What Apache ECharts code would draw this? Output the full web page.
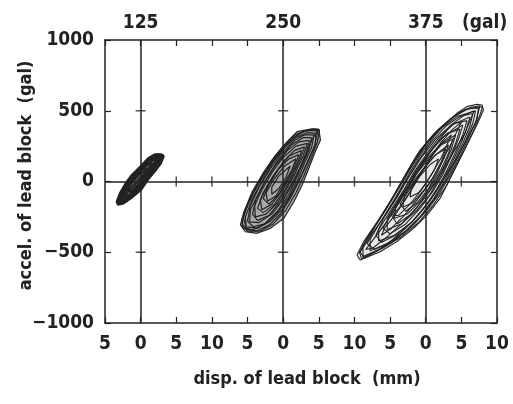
<!DOCTYPE html>
<html>
<head>
<meta charset="utf-8">
<script src="https://cdn.jsdelivr.net/npm/echarts@6/dist/echarts.min.js"></script>
<style>
html,body{margin:0;padding:0;background:#fff;}
#chart{width:513px;height:404px;}
</style>
</head>
<body>
<div id="chart"></div>
<script>
// ---- data (displacement mm, acceleration gal), local to each panel ----
const panelLabels = ['125', '250', '375'];
const panelCenters = [0, 20, 40];          // displacement origin of each panel on the shared axis
const zeroLineTicksX = [5, 10, 15, 25, 30, 35, 45];
const zeroLineTicksY = [-500, 500];

const loops125 = [
  [[3.3,180],[2.9,194],[2.0,194],[1.0,164],[-0.1,105],[-1.3,46],[-2.15,-13],[-2.95,-83],[-3.4,-143],[-3.2,-166],[-2.5,-159],[-1.3,-119],[0.1,-60],[1.0,10],[2.0,69],[2.9,129],[3.3,180]],
  [[2.8,170],[1.8,180],[0.6,130],[-0.6,70],[-1.8,0],[-2.7,-80],[-3.0,-140],[-2.2,-145],[-1.0,-95],[0.2,-30],[1.2,40],[2.2,110],[2.8,170]],
  [[2.4,150],[1.4,160],[0.2,100],[-1.0,30],[-2.2,-50],[-2.8,-120],[-2.0,-125],[-0.6,-60],[0.6,0],[1.6,70],[2.4,150]],
  [[1.8,120],[0.8,125],[-0.4,60],[-1.6,-10],[-2.4,-90],[-1.6,-100],[-0.4,-40],[0.8,30],[1.8,120]],
  [[1.2,90],[0.2,85],[-1.0,20],[-2.0,-60],[-1.2,-65],[0.0,-5],[1.2,90]],
  [[2.6,175],[1.2,150],[-0.2,80],[-1.5,10],[-2.5,-70],[-3.2,-150],[-2.6,-150],[-1.6,-100],[-0.3,-40],[0.8,20],[2.0,100],[2.6,175]],
  [[3.0,185],[2.2,170],[1.0,120],[-0.4,50],[-1.9,-30],[-2.9,-110],[-3.3,-155],[-2.8,-135],[-1.8,-70],[-0.6,-10],[0.6,60],[1.8,120],[3.0,185]],
  [[3.0,175],[2.4,185],[1.4,170],[0.2,110],[-1.0,45],[-2.0,-20],[-2.8,-90],[-3.3,-150],[-2.9,-160],[-2.0,-130],[-0.8,-70],[0.4,-5],[1.4,60],[2.4,130],[3.0,175]],
  [[2.2,160],[1.0,150],[-0.2,90],[-1.4,20],[-2.4,-60],[-3.0,-130],[-2.4,-140],[-1.2,-85],[0.0,-20],[1.0,50],[1.8,110],[2.2,160]],
  [[1.5,130],[0.4,110],[-0.8,45],[-1.9,-25],[-2.6,-100],[-1.8,-115],[-0.6,-50],[0.6,20],[1.5,130]],
  [[0.8,80],[-0.2,50],[-1.3,-10],[-1.9,-70],[-1.0,-70],[0.0,-10],[0.8,80]],
  [[3.2,188],[2.4,192],[1.3,170],[0.0,100],[-1.2,35],[-2.3,-40],[-3.1,-120],[-3.0,-160],[-2.2,-150],[-1.0,-100],[0.3,-40],[1.3,30],[2.4,100],[3.2,188]]
];

const loops250 = [
  [[5.0,371],[5.23,293],[4.5,211],[3.6,93],[2.66,-25],[1.5,-143],[0.1,-260],[-1.8,-331],[-3.65,-366],[-5.3,-355],[-6.0,-307],[-5.5,-213],[-4.35,-72],[-2.7,69],[-1.05,187],[0.56,281],[1.96,352],[3.86,371],[5.0,371]],
  [[4.6,340],[4.5,260],[3.6,160],[2.6,50],[1.4,-70],[0.0,-190],[-1.8,-280],[-3.6,-330],[-5.2,-320],[-5.3,-250],[-4.4,-130],[-3.0,0],[-1.5,130],[0.2,240],[1.8,310],[3.4,345],[4.6,340]],
  [[4.0,310],[3.6,220],[2.6,110],[1.4,-10],[0.0,-130],[-1.6,-230],[-3.4,-290],[-4.7,-285],[-4.6,-200],[-3.4,-80],[-2.0,50],[-0.4,170],[1.2,260],[2.8,310],[4.0,310]],
  [[3.4,270],[2.8,180],[1.8,70],[0.6,-40],[-0.8,-150],[-2.4,-230],[-3.9,-250],[-4.0,-170],[-3.0,-60],[-1.6,60],[0.0,170],[1.8,250],[3.4,270]],
  [[2.6,220],[2.0,130],[1.0,30],[-0.2,-70],[-1.6,-160],[-3.0,-200],[-3.2,-130],[-2.2,-30],[-0.8,80],[0.8,180],[2.6,220]],
  [[1.8,160],[1.2,80],[0.2,-10],[-1.0,-100],[-2.2,-140],[-2.4,-80],[-1.4,10],[0.2,110],[1.8,160]],
  [[4.8,360],[4.0,290],[3.0,170],[2.0,40],[0.8,-90],[-0.8,-210],[-2.6,-300],[-4.4,-345],[-5.6,-330],[-5.8,-270],[-4.9,-150],[-3.4,-10],[-1.8,120],[-0.2,220],[1.4,310],[3.2,360],[4.8,360]],
  [[1.0,110],[0.4,30],[-0.6,-50],[-1.6,-90],[-1.6,-40],[-0.6,40],[1.0,110]],
  [[5.1,365],[4.8,280],[3.9,160],[2.9,40],[1.8,-80],[0.4,-200],[-1.4,-300],[-3.2,-350],[-5.0,-350],[-5.8,-300],[-5.2,-190],[-3.9,-50],[-2.2,90],[-0.6,200],[1.0,290],[2.6,350],[4.2,372],[5.1,365]],
  [[4.3,330],[4.0,240],[3.0,130],[2.0,10],[0.8,-110],[-0.8,-220],[-2.6,-300],[-4.2,-320],[-5.0,-280],[-4.6,-170],[-3.4,-40],[-1.8,90],[-0.2,200],[1.6,290],[3.0,330],[4.3,330]],
  [[3.7,290],[3.2,200],[2.3,90],[1.0,-30],[-0.4,-140],[-2.0,-240],[-3.6,-275],[-4.3,-230],[-3.8,-120],[-2.6,0],[-1.0,120],[0.6,220],[2.2,280],[3.7,290]],
  [[3.0,245],[2.4,160],[1.4,50],[0.2,-60],[-1.2,-160],[-2.8,-220],[-3.6,-190],[-2.8,-80],[-1.4,40],[0.2,150],[1.6,220],[3.0,245]],
  [[2.2,190],[1.6,110],[0.6,10],[-0.6,-90],[-2.0,-160],[-2.8,-120],[-2.0,-20],[-0.6,90],[0.8,160],[2.2,190]],
  [[4.9,368],[3.4,360],[1.6,330],[0.0,250],[-1.6,150],[-3.2,20],[-4.6,-120],[-5.6,-250],[-5.2,-330],[-3.8,-350],[-2.0,-310],[-0.4,-230],[1.0,-120],[2.2,0],[3.4,130],[4.4,250],[4.9,368]]
];

const loops375 = [
  [[7.9,541],[8.1,505],[7.4,423],[6.24,305],[4.84,164],[3.44,23],[2.03,-119],[0.17,-237],[-1.7,-331],[-4.04,-425],[-6.4,-496],[-9.2,-555],[-9.65,-519],[-8.7,-425],[-6.8,-284],[-4.98,-143],[-3.11,23],[-1.23,187],[0.63,305],[2.5,399],[4.37,482],[5.78,529],[7.18,546],[7.9,541]],
  [[7.4,520],[7.2,440],[6.2,330],[5.0,200],[3.6,60],[2.0,-80],[0.2,-200],[-1.8,-310],[-4.2,-410],[-6.6,-480],[-8.8,-530],[-8.8,-460],[-7.4,-340],[-5.6,-200],[-3.8,-50],[-2.0,110],[-0.2,250],[1.8,370],[4.0,460],[6.0,515],[7.4,520]],
  [[6.6,480],[6.2,390],[5.2,270],[4.0,140],[2.6,0],[1.0,-130],[-0.8,-250],[-3.0,-360],[-5.4,-440],[-7.8,-490],[-7.8,-410],[-6.4,-290],[-4.6,-150],[-2.8,0],[-1.0,150],[0.8,280],[2.8,390],[4.8,460],[6.6,480]],
  [[5.8,430],[5.2,330],[4.2,210],[3.0,80],[1.6,-50],[0.0,-170],[-2.0,-290],[-4.4,-380],[-6.6,-420],[-6.6,-340],[-5.0,-210],[-3.2,-70],[-1.6,70],[0.2,200],[2.0,320],[4.0,410],[5.8,430]],
  [[4.8,370],[4.2,270],[3.2,150],[2.0,30],[0.6,-90],[-1.2,-200],[-3.4,-300],[-5.4,-340],[-5.4,-260],[-3.8,-130],[-2.2,10],[-0.6,130],[1.2,250],[3.0,340],[4.8,370]],
  [[3.8,300],[3.2,200],[2.2,90],[0.9,-20],[-0.6,-130],[-2.6,-230],[-4.4,-260],[-4.2,-180],[-2.8,-60],[-1.2,60],[0.6,170],[2.2,260],[3.8,300]],
  [[2.8,230],[2.2,140],[1.2,40],[-0.2,-60],[-1.8,-150],[-3.2,-180],[-3.0,-100],[-1.6,10],[0.0,110],[1.4,190],[2.8,230]],
  [[1.8,160],[1.2,80],[0.2,0],[-1.0,-80],[-2.2,-110],[-2.0,-40],[-0.8,40],[0.6,120],[1.8,160]],
  [[8.0,530],[7.6,470],[6.8,370],[5.6,240],[4.2,100],[2.8,-40],[1.0,-170],[-1.0,-290],[-3.4,-390],[-6.0,-470],[-9.0,-545],[-9.3,-500],[-8.0,-380],[-6.2,-240],[-4.4,-90],[-2.6,70],[-0.8,220],[1.2,340],[3.4,440],[5.6,510],[8.0,530]],
  [[7.6,535],[6.4,525],[4.8,490],[3.0,420],[1.2,320],[-0.6,200],[-2.4,50],[-4.2,-110],[-6.0,-260],[-7.8,-390],[-9.2,-500],[-8.6,-540],[-6.8,-490],[-4.6,-410],[-2.4,-310],[-0.6,-210],[1.2,-90],[2.8,40],[4.4,170],[5.8,300],[7.0,420],[7.6,535]],
  [[7.0,500],[6.6,410],[5.6,290],[4.4,160],[3.0,20],[1.4,-110],[-0.4,-230],[-2.6,-340],[-5.0,-430],[-7.2,-480],[-8.2,-440],[-7.2,-320],[-5.4,-180],[-3.6,-30],[-1.8,120],[0.0,260],[2.0,370],[4.4,460],[7.0,500]],
  [[6.2,455],[5.6,350],[4.6,230],[3.4,100],[2.0,-30],[0.4,-150],[-1.6,-270],[-3.8,-370],[-6.2,-430],[-7.0,-380],[-5.8,-250],[-4.0,-110],[-2.4,30],[-0.6,170],[1.4,300],[3.6,400],[6.2,455]],
  [[5.2,400],[4.6,300],[3.6,180],[2.4,50],[1.0,-70],[-0.8,-190],[-2.8,-300],[-5.0,-370],[-6.0,-330],[-4.6,-200],[-2.8,-60],[-1.2,80],[0.6,210],[2.6,320],[5.2,400]],
  [[4.2,330],[3.6,230],[2.6,110],[1.4,-10],[-0.2,-120],[-2.0,-230],[-4.0,-300],[-4.8,-240],[-3.4,-110],[-1.8,20],[0.0,150],[2.0,260],[4.2,330]],
  [[3.2,260],[2.6,170],[1.6,60],[0.4,-50],[-1.2,-150],[-2.8,-210],[-3.6,-160],[-2.2,-50],[-0.6,70],[1.2,180],[3.2,260]],
  [[6.8,500],[5.4,470],[3.6,400],[1.8,290],[0.0,160],[-1.8,10],[-3.6,-140],[-5.4,-280],[-7.2,-400],[-8.4,-480],[-7.4,-470],[-5.4,-390],[-3.2,-290],[-1.2,-180],[0.6,-60],[2.2,70],[3.8,200],[5.4,330],[6.8,500]],
  [[5.0,420],[3.8,370],[2.2,280],[0.6,160],[-1.0,30],[-2.6,-110],[-4.2,-230],[-5.8,-330],[-6.2,-380],[-4.8,-330],[-3.0,-240],[-1.2,-130],[0.6,-10],[2.0,120],[3.4,250],[5.0,420]],
  [[3.6,330],[2.4,280],[1.0,190],[-0.4,80],[-1.8,-40],[-3.2,-150],[-4.6,-240],[-3.8,-240],[-2.2,-160],[-0.6,-60],[0.8,50],[2.2,170],[3.6,330]]
];

// ---- chart ----
const INK = '#222';
const FONT = "'DejaVu Sans Condensed', 'DejaVu Sans', sans-serif";
const chart = echarts.init(document.getElementById('chart'), null, {renderer: 'canvas'});

const allLoops = [loops125, loops250, loops375];
const lineWidths = [1.6, 1.2, 1.1];
const shadeFill = ['rgba(30,30,30,0.8)', 'rgba(30,30,30,0.38)', 'rgba(30,30,30,0.1)'];
const series = [];

// density shading inside each family of loops (outer loop as the outline)
allLoops.forEach((loops, i) => {
  const c = panelCenters[i];
  const outer = loops[0];
  series.push({
    type: 'custom',
    silent: true,
    z: 1,
    data: [[c, 0]],
    renderItem: (params, api) => ({
      type: 'polygon',
      shape: {points: outer.map(p => api.coord([p[0] + c, p[1]]))},
      style: {fill: shadeFill[i], stroke: 'none'}
    })
  });
});

allLoops.forEach((loops, i) => {
  const c = panelCenters[i];
  loops.forEach(loop => {
    series.push({
      type: 'line',
      data: loop.map(p => [p[0] + c, p[1]]),
      showSymbol: false,
      symbol: 'none',
      silent: true,
      z: 3,
      lineStyle: {color: INK, width: lineWidths[i]}
    });
  });
});

// tick marks crossing the zero lines
series.push({
  type: 'scatter',
  data: zeroLineTicksX.map(v => [v, 0]),
  symbol: 'rect',
  symbolSize: [1.5, 10],
  silent: true,
  itemStyle: {color: INK},
  z: 2,
  markLine: {
    silent: true,
    symbol: ['none', 'none'],
    label: {show: false},
    lineStyle: {type: 'solid', color: INK, width: 1.5},
    data: [{yAxis: 0}].concat(panelCenters.map(c => ({xAxis: c})))
  }
});
const vTicks = [];
panelCenters.forEach(c => zeroLineTicksY.forEach(v => vTicks.push([c, v])));
series.push({
  type: 'scatter',
  data: vTicks,
  symbol: 'rect',
  symbolSize: [10, 1.5],
  silent: true,
  itemStyle: {color: INK},
  z: 2
});

function localLabel(v) {
  const local = v - 20 * Math.round(v / 20);
  return String(Math.abs(Math.round(local)));
}

const labelStyle = {color: INK, fontFamily: FONT, fontWeight: 'bold', fontSize: 19};
const titleStyle = {color: INK, fontFamily: FONT, fontWeight: 'bold', fontSize: 18, padding: [0, 0, 0, 12]};

chart.setOption({
  animation: false,
  backgroundColor: '#fff',
  grid: {left: 105, right: 16, top: 40, bottom: 81, containLabel: false, outerBoundsMode: 'none'},
  xAxis: [
    {
      type: 'value', position: 'bottom', min: -5, max: 50, interval: 5,
      axisLine: {onZero: false, lineStyle: {color: INK, width: 1.5}},
      axisTick: {inside: true, length: 6, lineStyle: {color: INK, width: 1.2}},
      splitLine: {show: false},
      axisLabel: Object.assign({margin: 12, formatter: localLabel}, labelStyle),
      name: 'disp. of lead block  (mm)',
      nameLocation: 'middle', nameGap: 47, nameMoveOverlap: false,
      nameTextStyle: titleStyle
    },
    {
      type: 'value', position: 'top', min: -5, max: 50, interval: 5,
      axisLine: {onZero: false, lineStyle: {color: INK, width: 1.5}},
      axisTick: {inside: true, length: 6, lineStyle: {color: INK, width: 1.2}},
      splitLine: {show: false},
      axisLabel: Object.assign({margin: 7, formatter: v => {
        const k = panelCenters.indexOf(v);
        return k >= 0 ? panelLabels[k] : '';
      }}, labelStyle)
    }
  ],
  yAxis: [
    {
      type: 'value', position: 'left', min: -1000, max: 1000, interval: 500,
      axisLine: {onZero: false, lineStyle: {color: INK, width: 1.5}},
      axisTick: {inside: true, length: 6, lineStyle: {color: INK, width: 1.2}},
      splitLine: {show: false},
      axisLabel: Object.assign({margin: 11, formatter: v => String(v).replace('-', '\u2212')}, labelStyle),
      name: 'accel. of lead block  (gal)',
      nameLocation: 'middle', nameGap: 70, nameMoveOverlap: false,
      nameTextStyle: titleStyle
    },
    {
      type: 'value', position: 'right', min: -1000, max: 1000, interval: 500,
      axisLine: {onZero: false, lineStyle: {color: INK, width: 1.5}},
      axisTick: {inside: true, length: 6, lineStyle: {color: INK, width: 1.2}},
      splitLine: {show: false},
      axisLabel: {show: false}
    }
  ],
  graphic: [{
    type: 'text', left: 462, top: 14,
    style: {text: '(gal)', fill: INK, font: 'bold 19px ' + FONT}
  }],
  series: series
});
</script>
</body>
</html>
